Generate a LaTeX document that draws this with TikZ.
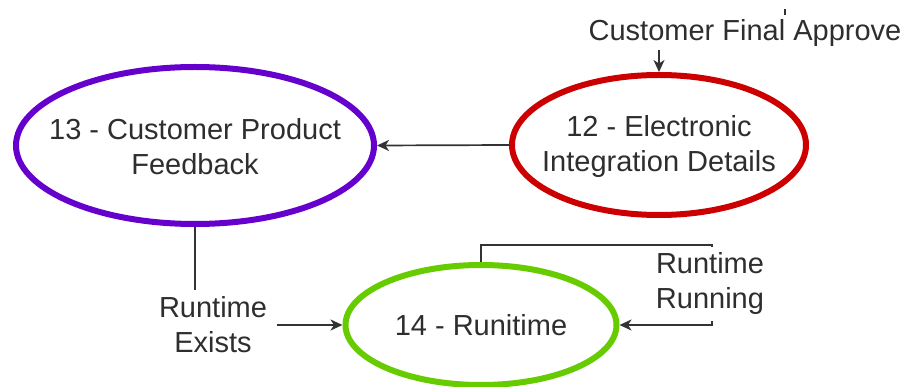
\documentclass[tikz,border=0pt]{standalone}
\usepackage{fontspec}
\setmainfont{Liberation Sans}
\usetikzlibrary{shapes.geometric,arrows.meta}
\definecolor{ellpurple}{HTML}{6600CC}
\definecolor{ellred}{HTML}{CC0000}
\definecolor{ellgreen}{HTML}{66CC00}
\definecolor{ink}{HTML}{2E2E2E}
\definecolor{wire}{HTML}{333333}
\tikzset{
  stage/.style={ellipse, draw=#1, line width=6pt, fill=white, inner sep=0pt},
  txt/.style={text=ink, align=center, font=\fontsize{29}{35}\selectfont, inner sep=0pt},
  tag/.style={txt, fill=white},
  wirepath/.style={draw=wire, line width=1.7pt},
  flow/.style={wirepath, -{Stealth[length=12pt,width=11pt,inset=3.5pt]}},
}
\begin{document}
\begin{tikzpicture}[x=1pt,y=-1pt]
\useasboundingbox (0,0) rectangle (908,387);

% process stages
\node[stage=ellpurple, minimum width=358pt, minimum height=157pt] (p) at (195,145.5) {};
\node[txt] (ptext) at ([yshift=-1.5pt]p.center) {13 - Customer Product\\Feedback};

\node[stage=ellred, minimum width=294pt, minimum height=140pt] (r) at (659,145) {};
\node[txt] (rtext) at ([yshift=-2pt]r.center) {12 - Electronic\\Integration Details};

\node[stage=ellgreen, minimum width=271pt, minimum height=120pt] (g) at (481,325) {};
\node[txt] (gtext) at (g.center) {14 - Runitime};

% approval input
\node[txt, inner ysep=3pt] (cfa) at (745,33.5) {Customer Final Approve};
\draw[flow] (cfa.south -| r.north) -- (r.north);
\coordinate (tickA) at (785,9);
\coordinate (tickB) at (785,15);
\draw[wirepath] (tickA) -- (tickB);

% stage 12 feeds stage 13
\draw[flow] (r.west) -- (p.east);

% stage 13 to stage 14
\draw[flow] (p.south) |- (g.west);
\node[tag, inner xsep=10pt, inner ysep=7pt] (ex) at (213,325) {Runtime\\Exists};

% stage 14 loop
\coordinate (loopc) at (712,245);
\draw[flow] (g.north) |- (loopc) |- (g.east);
\node[tag, inner xsep=4pt, inner ysep=6pt] (run) at (710,284) {Runtime\\Running};
\end{tikzpicture}
\end{document}
